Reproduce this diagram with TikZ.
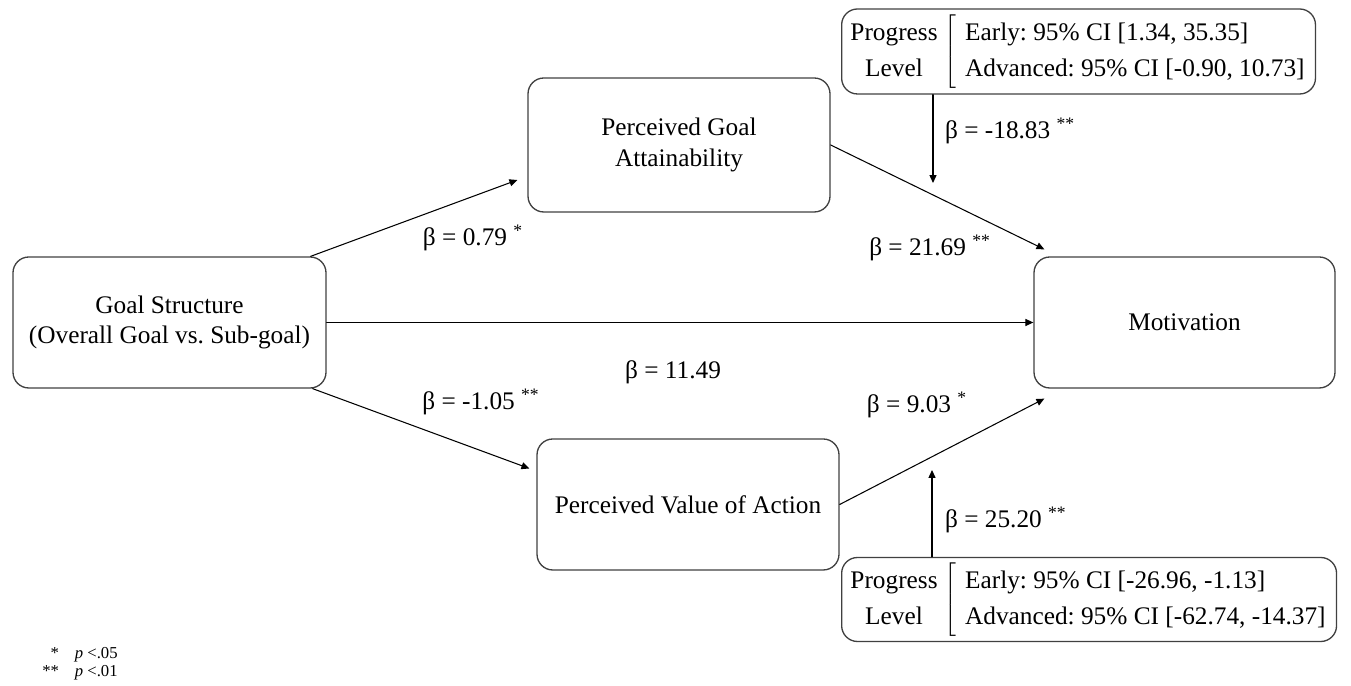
\documentclass[tikz,border=0pt]{standalone}
\usepackage{fontspec}
\setmainfont{Liberation Serif}
\usetikzlibrary{arrows.meta}
\frenchspacing

\begin{document}
\begin{tikzpicture}[>={Triangle[length=4.5pt,width=4pt]},font=\fontsize{14.4}{17.5}\selectfont,line cap=round,
  var/.style={draw=black!75,line width=0.75pt,rounded corners=9pt,align=center,minimum height=2.62cm},
  prog/.style={draw=black!75,line width=0.75pt,rounded corners=9pt,minimum height=1.7cm,inner xsep=5pt,inner ysep=2pt,anchor=west,font=\fontsize{14.4}{20}\selectfont},
  link/.style={->,line width=0.6pt},
  coef/.style={inner sep=1pt}]
\useasboundingbox (0,0) rectangle (27.02,13.72);
% variables
\node[var,minimum width=6.26cm] (goal) at (3.39,7.27) {Goal Structure\\(Overall Goal vs. Sub-goal)};
\node[var,minimum width=6.04cm,minimum height=2.68cm] (pga) at (13.58,10.82) {Perceived Goal\\Attainability};
\node[var,minimum width=6.04cm] (pva) at (13.76,3.63) {Perceived Value of Action};
\node[var,minimum width=6.02cm] (mot) at (23.69,7.27) {Motivation};
% moderators
\node[prog] (progtop) at (16.82,12.69) {\begin{tabular}{@{}c@{}}Progress\\Level\end{tabular}\hspace{4pt}$\left[\hspace{5pt}\begin{tabular}{@{}l@{}}Early: 95\% CI [1.34, 35.35]\\Advanced: 95\% CI [-0.90, 10.73]\end{tabular}\right.$};
\node[prog,minimum height=1.68cm] (progbot) at (16.82,1.73) {\begin{tabular}{@{}c@{}}Progress\\Level\end{tabular}\hspace{4pt}$\left[\hspace{5pt}\begin{tabular}{@{}l@{}}Early: 95\% CI [-26.96, -1.13]\\Advanced: 95\% CI [-62.74, -14.37]\end{tabular}\right.$};
\coordinate (modtop) at (18.66,10.06);
\coordinate (modbot) at (18.64,4.32);
% paths
\draw[link] ([xshift=-0.32cm]goal.north east) -- ([xshift=-0.2cm,yshift=-0.7cm]pga.west);
\draw[link] ([xshift=-0.28cm]goal.south east) -- ([xshift=-0.14cm,yshift=0.72cm]pva.west);
\draw[link] (goal.east) -- (mot.west);
\draw[link] (pga.east) -- ([xshift=0.22cm,yshift=0.14cm]mot.north west);
\draw[link] (pva.east) -- ([xshift=0.22cm,yshift=-0.2cm]mot.south west);
\draw[link] (modtop |- progtop.south) -- (modtop);
\draw[link] (modbot |- progbot.north) -- (modbot);
% coefficients
\node[coef] (b1) at (9.46,8.96) {β = 0.79 \textsuperscript{*}};
\node[coef] (b2) at (9.62,5.68) {β = -1.05 \textsuperscript{**}};
\node[coef] (b3) at (13.46,6.28) {β = 11.49};
\node[coef] (b4) at (18.6,8.76) {β = 21.69 \textsuperscript{**}};
\node[coef] (b5) at (18.34,5.62) {β = 9.03 \textsuperscript{*}};
\node[coef,anchor=west] (b6) at (18.86,11.1) {β = -18.83 \textsuperscript{**}};
\node[coef,anchor=west] (b7) at (18.86,3.32) {β = 25.20 \textsuperscript{**}};
% notes
\node[anchor=west,inner sep=0pt,font=\fontsize{9.5}{10.2}\selectfont] (notes) at (0.84,0.44) {\begin{tabular}{@{}r@{\hspace{9pt}}l@{}}*&\textit{p} <.05\\\relax **&\textit{p} <.01\end{tabular}};
\end{tikzpicture}
\end{document}
